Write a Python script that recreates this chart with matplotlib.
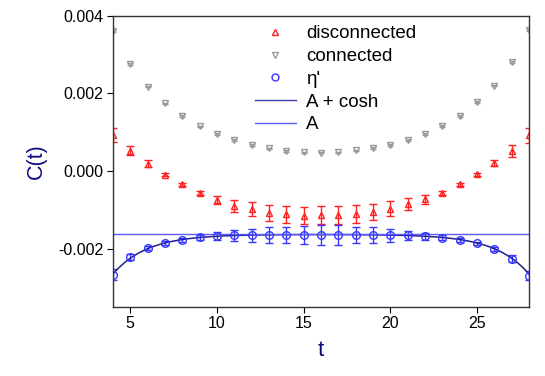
import numpy as np
import matplotlib
matplotlib.use('Agg')
import matplotlib.pyplot as plt
from matplotlib.lines import Line2D

plt.rcParams['font.family'] = ['Liberation Sans', 'DejaVu Sans']

# time slices
t = np.arange(4, 29)

# disconnected correlator (red up triangles)
disc = [0.00092, 0.00052, 0.00019, -0.00010, -0.00035, -0.00057, -0.00075,
        -0.00090, -0.00097, -0.00108, -0.00112, -0.00115, -0.00114, -0.00114,
        -0.00111, -0.00105, -0.00097, -0.00086, -0.00073, -0.00057, -0.00034,
        -0.00009, 0.00020, 0.00052, 0.00092]
disc_err = [0.00018, 0.00012, 0.00008, 0.00004, 0.00004, 0.00006, 0.00010,
            0.00016, 0.00018, 0.00021, 0.00022, 0.00023, 0.00023, 0.00023,
            0.00024, 0.00021, 0.00019, 0.00015, 0.00011, 0.00006, 0.00004,
            0.00004, 0.00007, 0.00015, 0.00019]

# connected correlator (grey down triangles)
conn = [0.00360, 0.00275, 0.00217, 0.00174, 0.00141, 0.00115, 0.00095,
        0.00079, 0.00067, 0.00058, 0.00052, 0.00048, 0.00047, 0.00048,
        0.00053, 0.00059, 0.00067, 0.00079, 0.00095, 0.00116, 0.00142,
        0.00177, 0.00220, 0.00280, 0.00363]
conn_err = [0.00002] * 25

# eta' correlator (blue circles)
eta = [-0.00267, -0.00222, -0.00199, -0.00185, -0.00177, -0.00171, -0.00168,
       -0.00166, -0.00166, -0.00165, -0.00165, -0.00165, -0.00165, -0.00165,
       -0.00165, -0.00165, -0.00166, -0.00166, -0.00168, -0.00172, -0.00178,
       -0.00187, -0.00201, -0.00226, -0.00270]
eta_err = [0.00013, 0.00008, 0.00006, 0.00005, 0.00005, 0.00006, 0.00010,
           0.00014, 0.00017, 0.00020, 0.00021, 0.00024, 0.00025, 0.00025,
           0.00020, 0.00020, 0.00017, 0.00012, 0.00009, 0.00006, 0.00005,
           0.00005, 0.00006, 0.00008, 0.00012]

# fit parameters: A + B*cosh(m*(t - T/2))
fit_A = -0.001636
fit_B = -4.5e-6
fit_m = 0.51
T_half = 16

red = '#ff2020'
grey = '#9a9a9a'
blue = '#3838ff'
navy = '#20208c'
lightblue = '#5a5aff'

fig = plt.figure(figsize=(5.45, 3.76), dpi=100)
ax = fig.add_axes([0.2073, 0.1843, 0.7633, 0.7739])

ax.errorbar(t, disc, yerr=disc_err, fmt='^', color=red, mfc='none',
            ms=5, mew=1, elinewidth=1, capsize=3, capthick=1)
ax.errorbar(t, conn, yerr=conn_err, fmt='v', color=grey, mfc='none',
            ms=5, mew=1, elinewidth=0.8, capsize=2, capthick=0.8)
ax.errorbar(t, eta, yerr=eta_err, fmt='o', color=blue, mfc='none',
            ms=5.5, mew=1, elinewidth=1, capsize=3, capthick=1)

tt = np.linspace(4, 28, 300)
ax.plot(tt, fit_A + fit_B * np.cosh(fit_m * (tt - T_half)), color=navy, lw=1.1)
ax.axhline(fit_A, color=lightblue, lw=1)

ax.set_xlim(4, 28)
ax.set_ylim(-0.0035, 0.004)
ax.set_xticks([5, 10, 15, 20, 25])
ax.set_yticks([-0.002, 0.0, 0.002, 0.004])
ax.set_yticklabels(['-0.002', '0.000', '0.002', '0.004'])
ax.tick_params(direction='out', length=4, width=0.8, labelsize=11.5, pad=3,
               right=False, top=False)
for s in ax.spines.values():
    s.set_linewidth(1)
    s.set_color('#333333')

ax.set_xlabel('t', fontsize=16, color='#0c0c80', labelpad=6)
ax.set_ylabel('C(t)', fontsize=15.5, color='#0c0c80', labelpad=8)

handles = [
    Line2D([], [], ls='none', marker='^', color=red, mfc='none', ms=5),
    Line2D([], [], ls='none', marker='v', color=grey, mfc='none', ms=5),
    Line2D([], [], ls='none', marker='o', color=blue, mfc='none', ms=5),
    Line2D([], [], color='#4040b0', lw=1),
    Line2D([], [], color=lightblue, lw=1),
]
labels = ['disconnected', 'connected', "η'", 'A + cosh', 'A']
ax.legend(handles, labels, loc='upper left', bbox_to_anchor=(0.341, 0.967),
          frameon=False, fontsize=13.5, handlelength=2.2, handletextpad=0.55,
          labelspacing=0.3, borderpad=0, borderaxespad=0)

fig.savefig('out.png', dpi=100)
